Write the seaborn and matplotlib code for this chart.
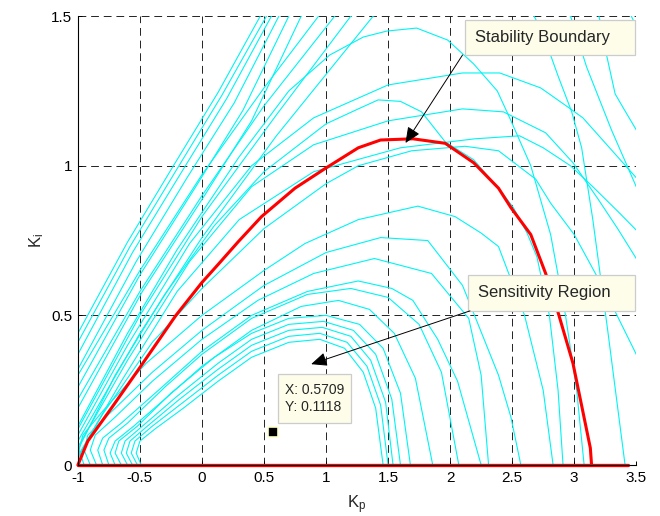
import matplotlib
matplotlib.use('Agg')
import matplotlib.pyplot as plt
from matplotlib.patches import Rectangle
import seaborn as sns
import pandas as pd

sns.set_theme(style='white')
plt.rcParams['font.family'] = ['Liberation Sans', 'DejaVu Sans']
plt.rcParams['mathtext.fontset'] = 'custom'
plt.rcParams['mathtext.rm'] = 'Liberation Sans'
plt.rcParams['mathtext.it'] = 'Liberation Sans'

# ---------------- data ----------------
x_ticks = [-1, -0.5, 0, 0.5, 1, 1.5, 2, 2.5, 3, 3.5]
y_ticks = [0, 0.5, 1, 1.5]
x_tick_labels = ['-1', '-0.5', '0', '0.5', '1', '1.5', '2', '2.5', '3', '3.5']
y_tick_labels = ['0', '0.5', '1', '1.5']

# nominal stability boundary (red)
red_kp = [-1.0, -0.92, -0.73, -0.51, -0.21, 0.0, 0.13, 0.29, 0.48, 0.75, 0.99, 1.26, 1.44,
          1.70, 1.96, 2.19, 2.39, 2.49, 2.65, 2.77, 2.87, 2.99, 3.13, 3.14]
red_ki = [0.0, 0.08, 0.19, 0.32, 0.50, 0.61, 0.67, 0.745, 0.83, 0.925, 0.99, 1.06, 1.086,
          1.09, 1.075, 1.01, 0.925, 0.86, 0.77, 0.64, 0.51, 0.34, 0.057, 0.0]
red_base_kp = [-1.0, 3.43]
red_base_ki = [0.0, 0.0]

# perturbed boundaries (cyan), each a list of (Kp, Ki)
A1 = [(-1.0, 0.44), (-0.6, 0.745), (-0.23, 1.0), (0.13, 1.245), (0.47, 1.5), (0.6, 1.59)]
A2 = [(-1.0, 0.41), (-0.58, 0.73), (-0.2, 0.99), (0.16, 1.235), (0.52, 1.5), (0.6, 1.55)]
A3 = [(-1.0, 0.37), (-0.56, 0.71), (-0.17, 0.975), (0.2, 1.225), (0.56, 1.5), (0.65, 1.56)]
A4 = [(-1.0, 0.32), (-0.53, 0.68), (-0.12, 0.96), (0.26, 1.21), (0.62, 1.5), (0.7, 1.56)]
A5 = [(-1.0, 0.26), (-0.5, 0.635), (-0.05, 0.93), (0.33, 1.185), (0.7, 1.5), (0.78, 1.56)]
A6 = [(-1.0, 0.19), (-0.48, 0.58), (0.02, 0.9), (0.4, 1.15), (0.8, 1.5), (0.88, 1.56)]
D1 = [(-1.0, 0.3), (-0.5, 0.65), (0.0, 0.97), (0.5, 1.26), (0.94, 1.5), (1.6, 1.75),
      (2.4, 1.8), (3.1, 1.68), (3.46, 1.5), (3.6, 1.38)]
D2 = [(-1.0, 0.22), (-0.5, 0.58), (0.0, 0.9), (0.5, 1.2), (1.07, 1.5), (1.7, 1.68),
      (2.4, 1.7), (2.95, 1.62), (3.2, 1.5), (3.25, 1.39), (3.33, 1.24), (3.40, 1.19),
      (3.5, 1.12), (3.6, 1.05)]
D3 = [(-1.0, 0.12), (-0.5, 0.5), (0.0, 0.83), (0.6, 1.17), (1.2, 1.5), (1.8, 1.63),
      (2.5, 1.6), (2.97, 1.5), (3.1, 1.33), (3.3, 1.12), (3.5, 0.93), (3.6, 0.85)]
D4 = [(-1.0, 0.08), (-0.5, 0.44), (0.0, 0.76), (0.6, 1.1), (1.38, 1.5), (2.0, 1.6),
      (2.6, 1.56), (2.74, 1.45), (2.87, 1.3), (2.98, 1.18), (3.06, 1.06), (3.15, 0.82),
      (3.27, 0.45), (3.41, 0.0)]
B1 = [(-1.0, 0.13), (-0.6, 0.44), (-0.2, 0.72), (0.3, 1.03), (0.7, 1.25), (1.03, 1.37),
      (1.3, 1.43), (1.49, 1.45), (1.73, 1.46), (1.98, 1.42), (2.19, 1.34), (2.38, 1.25),
      (2.48, 1.16), (2.65, 1.0), (2.81, 0.77), (2.93, 0.5), (3.02, 0.25), (3.08, 0.0)]
C1 = [(-1.0, 0.1), (-0.6, 0.4), (-0.1, 0.74), (0.4, 1.0), (0.9, 1.16), (1.5, 1.27),
      (2.1, 1.31), (2.4, 1.31), (2.73, 1.26), (2.97, 1.19), (3.07, 1.16), (3.5, 0.96),
      (3.6, 0.91)]
C2 = [(-1.0, 0.06), (-0.6, 0.35), (-0.1, 0.68), (0.4, 0.93), (0.9, 1.07), (1.5, 1.15),
      (2.1, 1.19), (2.43, 1.18), (2.77, 1.11), (2.99, 1.01), (3.19, 0.89), (3.35, 0.79),
      (3.5, 0.69), (3.6, 0.62)]
C3 = [(-1.0, 0.03), (-0.65, 0.28), (-0.2, 0.58), (0.3, 0.82), (0.9, 0.98), (1.6, 1.06),
      (2.2, 1.09), (2.56, 1.1), (2.75, 1.06), (2.97, 1.0), (3.15, 0.93), (3.37, 0.84),
      (3.5, 0.785), (3.6, 0.74)]
R1 = [(-1.02, 0.0), (-0.98, 0.04), (-0.8, 0.17), (-0.4, 0.41), (0.0, 0.59), (0.5, 0.79),
      (1.0, 0.94), (1.26, 1.0), (1.69, 1.05), (2.12, 1.065), (2.39, 1.05), (2.69, 0.955),
      (2.81, 0.875), (3.0, 0.77), (3.25, 0.58), (3.5, 0.37), (3.6, 0.29)]
R2 = [(-1.0, 0.05), (-0.7, 0.3), (-0.3, 0.57), (0.1, 0.8), (0.5, 0.98), (1.0, 1.14),
      (1.26, 1.19), (1.42, 1.22), (1.6, 1.215), (1.77, 1.18), (1.96, 1.08), (2.19, 1.02),
      (2.40, 0.92), (2.51, 0.86), (2.62, 0.775), (2.70, 0.695), (2.8, 0.5), (2.87, 0.25),
      (2.91, 0.0)]
M6 = [(-0.95, 0.0), (-0.99, 0.05), (-0.96, 0.1), (-0.8, 0.18), (-0.45, 0.34), (0.0, 0.5),
      (0.5, 0.65), (0.83, 0.74), (1.26, 0.82), (1.74, 0.865), (2.04, 0.83), (2.25, 0.775),
      (2.39, 0.73), (2.6, 0.5), (2.75, 0.25), (2.83, 0.0)]
M5 = [(-0.9, 0.0), (-0.95, 0.05), (-0.92, 0.1), (-0.75, 0.17), (-0.4, 0.31), (0.0, 0.45),
      (0.5, 0.6), (1.0, 0.71), (1.44, 0.76), (1.82, 0.75), (2.1, 0.6), (2.39, 0.30),
      (2.49, 0.16), (2.57, 0.0)]
M4 = [(-0.85, 0.0), (-0.9, 0.05), (-0.86, 0.1), (-0.7, 0.16), (-0.4, 0.28), (0.0, 0.42),
      (0.45, 0.55), (0.9, 0.64), (1.39, 0.69), (1.85, 0.64), (2.15, 0.49), (2.25, 0.3),
      (2.31, 0.0)]
M3 = [(-0.8, 0.0), (-0.84, 0.05), (-0.8, 0.09), (-0.65, 0.14), (-0.35, 0.25), (0.0, 0.38),
      (0.4, 0.5), (0.85, 0.58), (1.26, 0.615), (1.53, 0.59), (1.7, 0.55), (1.9, 0.42),
      (2.06, 0.28), (2.25, 0.0)]
M2 = [(-0.75, 0.0), (-0.79, 0.05), (-0.75, 0.09), (-0.6, 0.14), (-0.3, 0.26), (0.0, 0.37),
      (0.4, 0.49), (0.85, 0.57), (1.2, 0.59), (1.5, 0.56), (1.75, 0.47), (1.93, 0.31),
      (2.07, 0.0)]
M1 = [(-0.7, 0.0), (-0.74, 0.04), (-0.7, 0.08), (-0.55, 0.13), (-0.3, 0.22), (0.0, 0.33),
      (0.4, 0.45), (0.8, 0.53), (1.1, 0.55), (1.35, 0.52), (1.55, 0.44), (1.72, 0.29),
      (1.86, 0.0)]
S5 = [(-0.65, 0.0), (-0.7, 0.04), (-0.67, 0.08), (-0.52, 0.13), (-0.25, 0.24), (0.1, 0.36),
      (0.4, 0.44), (0.7, 0.49), (1.0, 0.5), (1.27, 0.47), (1.46, 0.39), (1.6, 0.24),
      (1.68, 0.0)]
S4 = [(-0.6, 0.0), (-0.65, 0.04), (-0.62, 0.08), (-0.48, 0.13), (-0.2, 0.23), (0.13, 0.34),
      (0.4, 0.42), (0.7, 0.47), (0.98, 0.48), (1.22, 0.45), (1.4, 0.37), (1.53, 0.22),
      (1.60, 0.0)]
S3 = [(-0.56, 0.0), (-0.61, 0.04), (-0.58, 0.08), (-0.44, 0.13), (-0.18, 0.22), (0.13, 0.32),
      (0.4, 0.4), (0.7, 0.45), (0.97, 0.46), (1.2, 0.43), (1.36, 0.35), (1.48, 0.21),
      (1.54, 0.0)]
S2 = [(-0.52, 0.0), (-0.57, 0.04), (-0.54, 0.08), (-0.4, 0.13), (-0.15, 0.21), (0.13, 0.3),
      (0.4, 0.38), (0.7, 0.43), (0.95, 0.44), (1.17, 0.41), (1.33, 0.33), (1.44, 0.2),
      (1.50, 0.0)]
S1 = [(-0.49, 0.0), (-0.53, 0.04), (-0.5, 0.08), (-0.38, 0.12), (-0.15, 0.19), (0.13, 0.28),
      (0.4, 0.36), (0.7, 0.41), (0.95, 0.42), (1.15, 0.39), (1.3, 0.31), (1.4, 0.19),
      (1.46, 0.0)]

cyan_curves = {'A1': A1, 'A2': A2, 'A3': A3, 'A4': A4, 'A5': A5, 'A6': A6,
               'D1': D1, 'D2': D2, 'D3': D3, 'D4': D4, 'B1': B1,
               'C1': C1, 'C2': C2, 'C3': C3, 'R1': R1, 'R2': R2,
               'M6': M6, 'M5': M5, 'M4': M4, 'M3': M3, 'M2': M2, 'M1': M1,
               'S5': S5, 'S4': S4, 'S3': S3, 'S2': S2, 'S1': S1}

tip_kp, tip_ki = 0.5709, 0.1118
tip_text = 'X: 0.5709\nY: 0.1118'
label_stab = 'Stability Boundary'
label_sens = 'Sensitivity Region'

# ---------------- build table ----------------
rows = []
for name, pts in cyan_curves.items():
    for i, (kp, ki) in enumerate(pts):
        rows.append((name, i, kp, ki))
df = pd.DataFrame(rows, columns=['curve', 'order', 'Kp', 'Ki'])
df_red = pd.DataFrame({'Kp': red_kp, 'Ki': red_ki})
df_base = pd.DataFrame({'Kp': red_base_kp, 'Ki': red_base_ki})

# ---------------- figure ----------------
fig = plt.figure(figsize=(6.6, 5.16), dpi=100)
ax = fig.add_axes([0.118, 0.0988, 0.846, 0.870])

sns.lineplot(data=df, x='Kp', y='Ki', units='curve', estimator=None, sort=False,
             color='#00f4f4', lw=0.8, ax=ax, legend=False)
sns.lineplot(data=df_red, x='Kp', y='Ki', sort=False, estimator=None,
             color='#ff0000', lw=2.2, ax=ax, legend=False)
ax.lines[-1].set_clip_on(False)
sns.lineplot(data=df_base, x='Kp', y='Ki', sort=False, estimator=None,
             color='#ff0000', lw=2.4, ax=ax, legend=False)
ax.lines[-1].set_clip_on(False)

ax.set_xlim(-1, 3.5)
ax.set_ylim(0, 1.5)
ax.set_xticks(x_ticks)
ax.set_xticklabels(x_tick_labels)
ax.set_yticks(y_ticks)
ax.set_yticklabels(y_tick_labels)
ax.grid(True, color='#222222', linestyle=(0, (8, 5)), linewidth=0.7)
ax.set_axisbelow(True)
for s in ['top', 'right']:
    ax.spines[s].set_visible(False)
for s in ['left', 'bottom']:
    ax.spines[s].set_color('black')
    ax.spines[s].set_linewidth(0.8)
ax.tick_params(bottom=True, left=True, direction='in', length=3, width=0.7,
               labelsize=11, colors='black', pad=4)

ax.set_xlabel(r'K$_\mathrm{p}$', fontsize=12, labelpad=6)
ax.set_ylabel(r'K$_\mathrm{i}$', fontsize=12, labelpad=4)

# text boxes
box_fc = '#fdfdea'
box_ec = '#cccccc'
ax.add_patch(Rectangle((2.121, 1.370), 1.371, 0.117, fc=box_fc, ec=box_ec, lw=0.9,
                       zorder=5, clip_on=False))
ax.text(2.202, 1.4285, label_stab, fontsize=12, ha='left', va='center', zorder=6)
ax.add_patch(Rectangle((2.145, 0.515), 1.347, 0.120, fc=box_fc, ec=box_ec, lw=0.9,
                       zorder=5, clip_on=False))
ax.text(2.226, 0.575, label_sens, fontsize=12, ha='left', va='center', zorder=6)

ax.annotate('', xy=(1.64, 1.076), xytext=(2.10, 1.37),
            arrowprops=dict(arrowstyle='-|>,head_length=0.8,head_width=0.35',
                            color='black', lw=0.7, mutation_scale=12,
                            shrinkA=0, shrinkB=0), zorder=7)
ax.annotate('', xy=(0.88, 0.337), xytext=(2.16, 0.515),
            arrowprops=dict(arrowstyle='-|>,head_length=0.8,head_width=0.35',
                            color='black', lw=0.7, mutation_scale=12,
                            shrinkA=0, shrinkB=0), zorder=7)

# data tip
ax.add_patch(Rectangle((0.613, 0.140), 0.589, 0.164, fc=box_fc, ec=box_ec, lw=0.9,
                       zorder=5))
ax.text(0.669, 0.222, tip_text, fontsize=10, ha='left', va='center',
        linespacing=1.25, zorder=6)
ax.plot([tip_kp], [tip_ki], marker='s', ms=6.5, mfc='black', mec='#ffffcc',
        mew=1.2, zorder=8, ls='none')

fig.savefig('out.png', dpi=100)
